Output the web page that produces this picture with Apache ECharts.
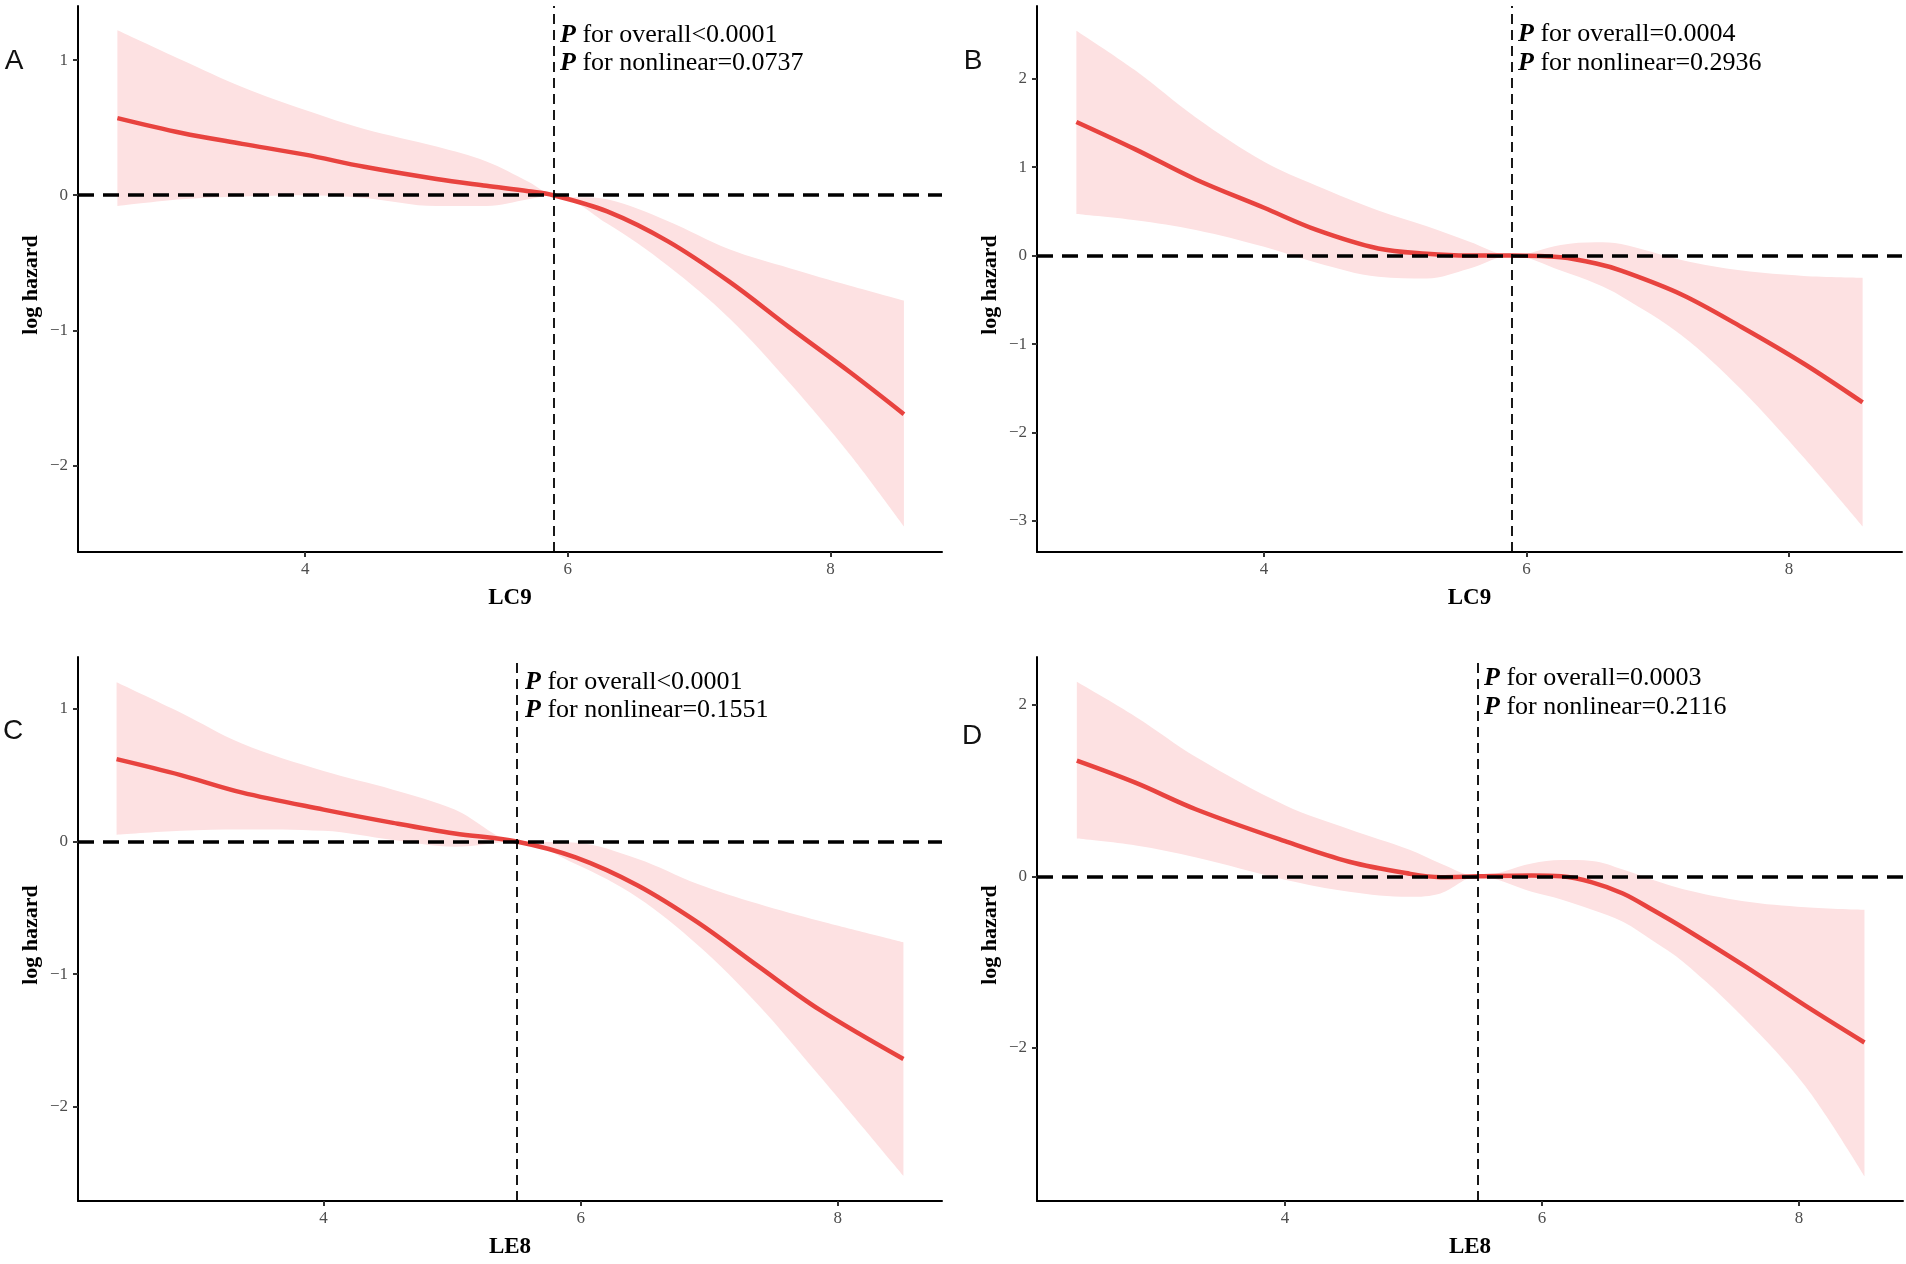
<!DOCTYPE html>
<html>
<head>
<meta charset="utf-8">
<script src="https://cdn.jsdelivr.net/npm/echarts@6/dist/echarts.min.js"></script>
<style>
html,body{margin:0;padding:0;background:#fff;}
#chart{width:1906px;height:1264px;}
</style>
</head>
<body>
<div id="chart"></div>
<script>
// ---------- Data ----------
// Panel A: LC9 (model 1)
const xA   = [2.57, 3.06, 3.52, 4.00, 4.45, 5.00, 5.38, 5.70, 5.89, 6.30, 6.76, 7.23, 7.69, 8.15, 8.56];
const fitA = [0.57, 0.46, 0.38, 0.30, 0.21, 0.12, 0.07, 0.03, 0.00, -0.12, -0.34, -0.64, -0.98, -1.31, -1.62];
const hiA  = [1.22, 1.00, 0.80, 0.63, 0.49, 0.36, 0.25, 0.10, 0.00, -0.03, -0.19, -0.40, -0.54, -0.67, -0.78];
const loA  = [-0.08, -0.03, -0.01, 0.00, -0.02, -0.08, -0.08, -0.03, 0.00, -0.21, -0.52, -0.91, -1.39, -1.92, -2.45];

// Panel B: LC9 (model 2)
const xB   = [2.57, 3.02, 3.48, 4.00, 4.40, 4.87, 5.24, 5.56, 5.89, 6.26, 6.53, 6.72, 7.18, 7.64, 8.11, 8.56];
const fitB = [1.51, 1.20, 0.86, 0.54, 0.29, 0.08, 0.02, 0.00, 0.00, -0.02, -0.09, -0.17, -0.44, -0.81, -1.22, -1.66];
const hiB  = [2.54, 2.09, 1.56, 1.06, 0.79, 0.51, 0.33, 0.16, 0.00, 0.12, 0.15, 0.13, -0.05, -0.17, -0.23, -0.25];
const loB  = [0.47, 0.40, 0.29, 0.10, -0.08, -0.24, -0.26, -0.15, 0.00, -0.17, -0.32, -0.46, -0.90, -1.52, -2.28, -3.06];

// Panel C: LE8 (model 1)
const xC   = [2.39, 2.89, 3.36, 4.00, 4.54, 5.02, 5.50, 5.96, 6.44, 6.91, 7.38, 7.86, 8.51];
const fitC = [0.62, 0.50, 0.37, 0.24, 0.14, 0.06, 0.00, -0.12, -0.33, -0.61, -0.94, -1.27, -1.64];
const hiC  = [1.20, 0.97, 0.74, 0.53, 0.39, 0.24, 0.00, -0.01, -0.13, -0.32, -0.47, -0.60, -0.76];
const loC  = [0.05, 0.08, 0.09, 0.08, 0.01, -0.04, 0.00, -0.17, -0.42, -0.78, -1.23, -1.77, -2.52];

// Panel D: LE8 (model 2)
const xD   = [2.38, 2.84, 3.31, 4.00, 4.50, 4.97, 5.21, 5.50, 5.92, 6.15, 6.39, 6.63, 6.86, 7.10, 7.57, 8.05, 8.51];
const fitD = [1.35, 1.09, 0.78, 0.41, 0.17, 0.03, -0.01, 0.00, 0.01, 0.00, -0.07, -0.20, -0.39, -0.60, -1.04, -1.51, -1.94];
const hiD  = [2.27, 1.86, 1.39, 0.83, 0.55, 0.31, 0.15, 0.00, 0.15, 0.19, 0.18, 0.08, -0.04, -0.15, -0.29, -0.36, -0.39];
const loD  = [0.44, 0.36, 0.22, -0.04, -0.18, -0.24, -0.20, 0.00, -0.18, -0.27, -0.39, -0.53, -0.75, -1.00, -1.65, -2.45, -3.50];

// Reference (median) lines
const refX = [5.89, 5.89, 5.50, 5.50];

// Tick labels
const xTicks  = [4, 6, 8];
const yTicksA = [-2, -1, 0, 1];
const yTicksB = [-3, -2, -1, 0, 1, 2];
const yTicksC = [-2, -1, 0, 1];
const yTicksD = [-2, 0, 2];

// Axis ranges
const xRange = [[2.27, 8.85], [2.27, 8.86], [2.09, 8.81], [2.07, 8.81]];
const yRange = [[-2.64, 1.40], [-3.35, 2.82], [-2.71, 1.39], [-3.79, 2.56]];

const xNames = ['LC9', 'LC9', 'LE8', 'LE8'];
const yName = 'log hazard';
const panelLetters = ['A', 'B', 'C', 'D'];
const pOverall   = ['<0.0001', '=0.0004', '<0.0001', '=0.0003'];
const pNonlinear = ['=0.0737', '=0.2936', '=0.1551', '=0.2116'];

// ---------- Build ----------
const panels = [
  {x: xA, fit: fitA, hi: hiA, lo: loA, yt: yTicksA},
  {x: xB, fit: fitB, hi: hiB, lo: loB, yt: yTicksB},
  {x: xC, fit: fitC, hi: hiC, lo: loC, yt: yTicksC},
  {x: xD, fit: fitD, hi: hiD, lo: loD, yt: yTicksD}
];

const grids = [
  {left: 78,   top: 6,   width: 864, height: 546},
  {left: 1037, top: 6,   width: 865, height: 546},
  {left: 78,   top: 657, width: 864, height: 544},
  {left: 1037, top: 657, width: 866, height: 544}
];

const SERIF = "'Liberation Serif','Times New Roman',serif";
const fmt = v => String(v).replace('-', '\u2212');
const RED = '#E8433F';
const BAND = '#FDE1E2';
const SM = 0.35;

const xAxes = [], yAxes = [], series = [], graphics = [];

panels.forEach((p, i) => {
  xAxes.push({
    type: 'value', gridIndex: i, min: xRange[i][0], max: xRange[i][1], z: 10,
    name: xNames[i], nameLocation: 'middle', nameGap: 35,
    nameTextStyle: {fontFamily: SERIF, fontSize: 23, fontWeight: 'bold', color: '#000'},
    axisLine: {onZero: false, lineStyle: {color: '#000', width: 2}},
    axisTick: {show: true, length: 5, lineStyle: {color: '#333', width: 2}, customValues: xTicks},
    axisLabel: {fontFamily: SERIF, fontSize: 17, color: '#4D4D4D', margin: 9, customValues: xTicks, formatter: fmt},
    splitLine: {show: false}
  });
  yAxes.push({
    type: 'value', gridIndex: i, min: yRange[i][0], max: yRange[i][1], z: 10,
    axisLine: {onZero: false, lineStyle: {color: '#000', width: 2}},
    axisTick: {show: true, length: 5, lineStyle: {color: '#333', width: 2}, customValues: p.yt},
    axisLabel: {fontFamily: SERIF, fontSize: 17, color: '#4D4D4D', margin: 10, customValues: p.yt, formatter: fmt},
    splitLine: {show: false}
  });

  // band rows are [y, x] so that the stacked dimension is y (stacked by index)
  const loRows = p.x.map((x, k) => [p.lo[k], x]);
  const widthRows = p.x.map((x, k) => [+(p.hi[k] - p.lo[k]).toFixed(4), x]);
  const fitData = p.x.map((x, k) => [x, p.fit[k]]);

  series.push({
    type: 'line', xAxisIndex: i, yAxisIndex: i, data: loRows, encode: {x: 1, y: 0},
    stack: 'ci' + i, stackStrategy: 'all', smooth: SM,
    symbol: 'none', lineStyle: {opacity: 0}, silent: true, z: 1
  });
  series.push({
    type: 'line', xAxisIndex: i, yAxisIndex: i, data: widthRows, encode: {x: 1, y: 0},
    stack: 'ci' + i, stackStrategy: 'all', smooth: SM,
    symbol: 'none', lineStyle: {opacity: 0}, areaStyle: {color: BAND, opacity: 1}, silent: true, z: 1
  });
  series.push({
    type: 'line', xAxisIndex: i, yAxisIndex: i, data: fitData, smooth: SM, symbol: 'none',
    lineStyle: {color: RED, width: 4.5}, silent: true, z: 3
  });
  series.push({
    type: 'line', xAxisIndex: i, yAxisIndex: i, data: [], z: 5, silent: true,
    markLine: {
      silent: true, symbol: ['none', 'none'], label: {show: false}, animation: false,
      data: [
        {yAxis: 0, lineStyle: {color: '#000', width: 3.5, type: [16, 9]}},
        {xAxis: refX[i], lineStyle: {color: '#000', width: 1.8, type: [10, 6]}}
      ]
    }
  });
});

// Annotations (layout positions)
const pPos = [[560, 35, 63], [1518, 34, 63], [525, 682, 710], [1484, 678, 707]];
const letterPos = [[14, 61], [973, 61], [13, 731], [972, 736]];
const yNamePos = [[31, 285], [990, 285], [31, 935], [990, 935]];
panels.forEach((p, i) => {
  const rich = {p: {fontFamily: SERIF, fontSize: 26, fontWeight: 'bold', fontStyle: 'italic', fill: '#000'}};
  graphics.push({type: 'text', x: pPos[i][0], y: pPos[i][1], silent: true, z: 10,
    style: {text: '{p|P} for overall' + pOverall[i], rich: rich, fontFamily: SERIF, fontSize: 26, fill: '#000',
            align: 'left', verticalAlign: 'middle'}});
  graphics.push({type: 'text', x: pPos[i][0], y: pPos[i][2], silent: true, z: 10,
    style: {text: '{p|P} for nonlinear' + pNonlinear[i], rich: rich, fontFamily: SERIF, fontSize: 26, fill: '#000',
            align: 'left', verticalAlign: 'middle'}});
  graphics.push({type: 'text', x: letterPos[i][0], y: letterPos[i][1], silent: true, z: 10,
    style: {text: panelLetters[i], fontFamily: "'Liberation Sans',Arial,sans-serif", fontSize: 28, fill: '#111',
            align: 'center', verticalAlign: 'middle'}});
  graphics.push({type: 'text', x: yNamePos[i][0], y: yNamePos[i][1], rotation: Math.PI / 2, silent: true, z: 10,
    style: {text: yName, fontFamily: SERIF, fontSize: 22, fontWeight: 'bold', fill: '#000',
            align: 'center', verticalAlign: 'middle'}});
});

const chart = echarts.init(document.getElementById('chart'), null, {renderer: 'canvas'});
chart.setOption({
  animation: false,
  backgroundColor: '#fff',
  grid: grids,
  xAxis: xAxes,
  yAxis: yAxes,
  series: series,
  graphic: graphics
});
</script>
</body>
</html>
